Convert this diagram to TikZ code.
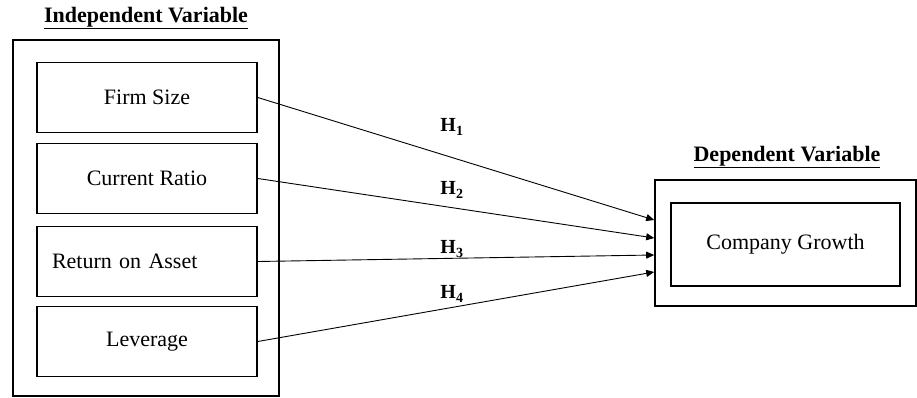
\documentclass[tikz,border=0pt]{standalone}
\usepackage{fontspec}
\setmainfont{Liberation Serif}
\usetikzlibrary{arrows.meta,positioning,calc}
\tikzset{
  >={Triangle[length=8pt,width=7pt]},
  obox/.style={draw,line width=1.6pt,inner sep=0pt},
  box/.style={draw,line width=1.6pt,minimum width=220pt,minimum height=70pt,inner sep=0pt,font=\fontsize{22}{26}\selectfont},
  ttl/.style={font=\fontsize{22}{26}\selectfont\bfseries},
  lab/.style={font=\fontsize{20}{24}\selectfont\bfseries},
  arr/.style={->,line width=0.9pt},
}
\begin{document}
\begin{tikzpicture}[x=1pt,y=1pt]
\useasboundingbox (0,0) rectangle (917,398);
% independent
\node[ttl] (indt) at (146,380) {\underline{Independent Variable}};
\node[obox,minimum width=266pt,minimum height=356pt] (ind) at (146,180) {};
\node[box] (fs) at (147,300.5) {Firm Size};
\node[box] (cr) at (147,219.5) {Current Ratio};
\node[box,text width=190pt,inner xsep=15pt,align=left] (roa) at (147,136.5) {Return on Asset};
\node[box] (lev) at (147,56.5) {Leverage};
% dependent
\node[ttl] (dept) at (787,241) {\underline{Dependent Variable}};
\node[obox,minimum width=261pt,minimum height=126pt] (dep) at (785.5,155) {};
\node[box,minimum width=229pt,minimum height=83pt] (cg) at (785.5,153.5) {Company Growth};
% hypotheses
\foreach \s/\d [count=\i] in {fs/23,cr/5,roa/-12,lev/-29}{
  \coordinate (e\i) at ($(dep.west)+(0,\d)$);
  \draw[arr] (\s.east) -- (e\i);
}
\foreach \y [count=\i] in {271,208,149,104}
  \node[lab] (h\i) at (452,\y) {H\textsubscript{\i}};
\end{tikzpicture}
\end{document}
